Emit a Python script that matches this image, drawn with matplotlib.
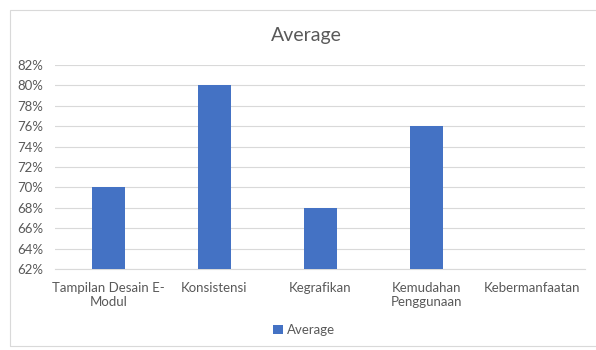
import numpy as np
import matplotlib
matplotlib.use('agg')
from matplotlib import pyplot as plt
from matplotlib.patches import Rectangle
from matplotlib.ticker import FuncFormatter

categories = ["Tampilan Desain E-\nModul", "Konsistensi", "Kegrafikan",
              "Kemudahan\nPenggunaan", "Kebermanfaatan"]
average = [70, 80, 68, 76, np.nan]
series_name = "Average"

BAR = "#4472C4"
GRID = "#D9D9D9"
TXT = "#595959"

plt.rcParams['font.family'] = ['Lato', 'DejaVu Sans']

fig = plt.figure(figsize=(5.96, 3.5), dpi=100)
ax = fig.add_axes([0.093, 0.231, 0.889, 0.584])

# chart frame like the spreadsheet chart area
fig.patches.append(Rectangle((10 / 596, 4 / 350), 1.2, 336 / 350, transform=fig.transFigure,
                             fill=False, ec=GRID, lw=0.8))

x = np.arange(len(categories))
ax.bar(x, average, width=0.31, color=BAR, label=series_name, zorder=3)

ax.set_ylim(62, 82)
ax.set_yticks(np.arange(62, 83, 2))
ax.yaxis.set_major_formatter(FuncFormatter(lambda v, p: f'{v:.0f}%'))
ax.set_xlim(-0.5, len(categories) - 0.5)
ax.set_xticks(x)
ax.set_xticklabels(categories)
ax.grid(axis='y', color=GRID, lw=0.8, zorder=0)
ax.tick_params(length=0, colors=TXT, labelsize=9.5)
ax.tick_params(axis='x', pad=9)
ax.tick_params(axis='y', pad=9)
for lab in ax.get_xticklabels():
    lab.set_verticalalignment('top')
    lab.set_linespacing(1.25)
for s in ['top', 'right', 'left']:
    ax.spines[s].set_visible(False)
ax.spines['bottom'].set_color(GRID)
ax.spines['bottom'].set_linewidth(0.8)

fig.text(0.514, 0.9, "Average", ha='center', va='center', fontsize=14, color=TXT)

fig.legend(loc='center', bbox_to_anchor=(0.51, 0.057), frameon=False, fontsize=9.5,
           handlelength=0.7, handleheight=0.7, handletextpad=0.3, labelcolor=TXT)

plt.savefig('out.png', dpi=100)
plt.close(fig)
